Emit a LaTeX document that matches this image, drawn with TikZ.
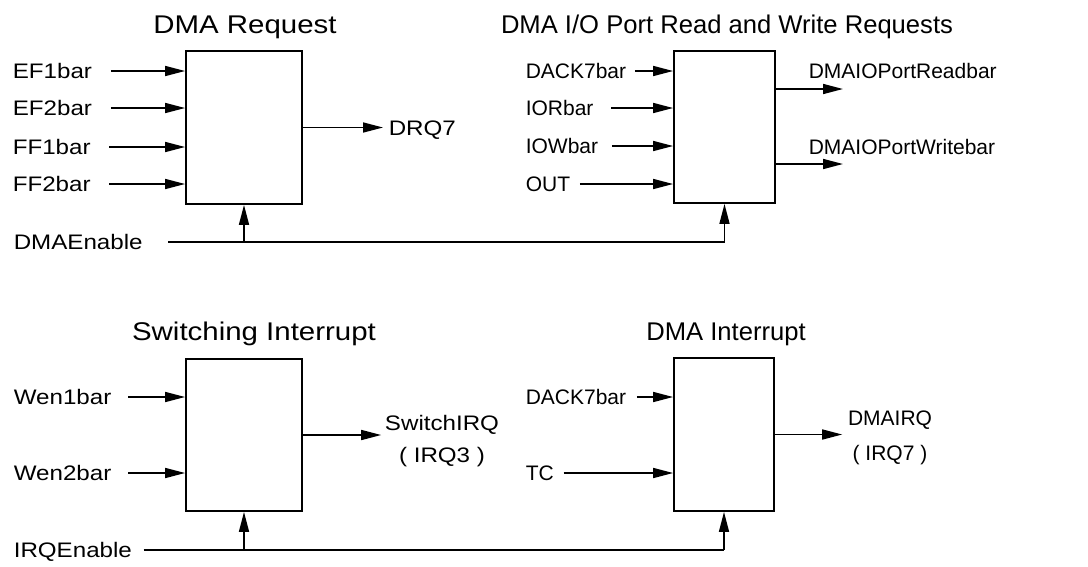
\documentclass[tikz,border=0pt]{standalone}
\usepackage{fontspec}
\setmainfont{Liberation Sans}
\newfontfamily\widesans[FakeStretch=1.15]{Liberation Sans}
\usetikzlibrary{arrows.meta}

\begin{document}
\begin{tikzpicture}[line width=1.6pt, >={Triangle[length=20pt,width=10pt]}, x=1pt, y=-1pt,
  blk/.style={draw, line width=1.8pt, inner sep=0pt},
  ttl/.style={anchor=base, inner sep=0pt, font=\fontsize{25.6}{30}\selectfont},
  wttl/.style={ttl, font=\widesans\fontsize{25.6}{30}\selectfont},
  lbl/.style={anchor=west, inner sep=0pt, text height=15pt, text depth=0pt, font=\fontsize{21}{25}\selectfont},
  wlbl/.style={lbl, font=\widesans\fontsize{21}{25}\selectfont},
  outlbl/.style={align=center, inner sep=0pt, font=\fontsize{21}{35}\selectfont},
  woutlbl/.style={outlbl, font=\widesans\fontsize{21}{32}\selectfont}]
  \useasboundingbox (0,0) rectangle (1088,566);

  % --- DMA request ---
  \node[blk, minimum width=116pt, minimum height=153pt] (reqbox) at (244,127.5) {};
  \node[wttl] at (245,33) {DMA Request};
  \foreach \nm/\txt/\yy/\gap in {ef1/EF1bar/71/18pt, ef2/EF2bar/108/18pt, ff1/FF1bar/147/18pt, ff2/FF2bar/184/18pt}{
    \node[wlbl] (\nm) at (12,\yy) {\txt};
    \draw[->, shorten <=\gap] (\nm.east) -- (\nm.east -| reqbox.west);
  }
  \node[wlbl] (drq) at (388,127.5) {DRQ7};
  \draw[->, shorten >=5pt] (reqbox.east) -- (drq.west);

  % --- DMA I/O port read / write ---
  \node[blk, minimum width=101pt, minimum height=152pt] (portbox) at (724.5,127) {};
  \node[ttl] at (727,33) {DMA I/O Port Read and Write Requests};
  \foreach \nm/\txt/\yy/\gap in {dack/DACK7bar/71/8pt, iorb/IORbar/108/17pt, iowb/IOWbar/146/13pt, outp/OUT/184/9pt}{
    \node[lbl] (\nm) at (525,\yy) {\txt};
    \draw[->, shorten <=\gap] (\nm.east) -- (\nm.east -| portbox.west);
  }
  \node[lbl] (rdout) at (808,71) {DMAIOPortReadbar};
  \node[lbl] (wrout) at (808,147) {DMAIOPortWritebar};
  \coordinate (rdend) at (843,89);
  \coordinate (wrend) at (843,164);
  \draw[->] (rdend -| portbox.east) -- (rdend);
  \draw[->] (wrend -| portbox.east) -- (wrend);

  % --- DMA enable ---
  \node[wlbl] (dmaen) at (13,242) {DMAEnable};
  \draw[shorten <=25pt] (dmaen.east) -- (dmaen.east -| portbox.south);
  \draw[->] (dmaen.east -| reqbox.south) -- (reqbox.south);
  \draw[->] (dmaen.east -| portbox.south) -- (portbox.south);

  % --- switching interrupt ---
  \node[blk, minimum width=116pt, minimum height=152pt] (swbox) at (244,435) {};
  \node[wttl] at (254,340) {Switching Interrupt};
  \foreach \nm/\txt/\yy/\gap in {wen1/Wen1bar/397/16pt, wen2/Wen2bar/473/16pt}{
    \node[wlbl] (\nm) at (13,\yy) {\txt};
    \draw[->, shorten <=\gap] (\nm.east) -- (\nm.east -| swbox.west);
  }
  \node[woutlbl] (swirq) at (442,441) {SwitchIRQ\\( IRQ3 )};
  \draw[->, shorten >=3pt] (swbox.east) -- (swbox.east -| swirq.west);

  % --- DMA interrupt ---
  \node[blk, minimum width=100pt, minimum height=153pt] (irqbox) at (724,434.5) {};
  \node[ttl] at (726,340) {DMA Interrupt};
  \foreach \nm/\txt/\yy/\gap in {dackb/DACK7bar/397/10pt, tc/TC/473/9pt}{
    \node[lbl] (\nm) at (525,\yy) {\txt};
    \draw[->, shorten <=\gap] (\nm.east) -- (\nm.east -| irqbox.west);
  }
  \node[outlbl] (dmairq) at (890,437.5) {DMAIRQ\\( IRQ7 )};
  \draw[->, shorten >=5pt] (irqbox.east) -- (irqbox.east -| dmairq.west);

  % --- IRQ enable ---
  \node[wlbl] (irqen) at (13,550) {IRQEnable};
  \draw[shorten <=11pt] (irqen.east) -- (irqen.east -| irqbox.south);
  \draw[->] (irqen.east -| swbox.south) -- (swbox.south);
  \draw[->] (irqen.east -| irqbox.south) -- (irqbox.south);
\end{tikzpicture}
\end{document}
